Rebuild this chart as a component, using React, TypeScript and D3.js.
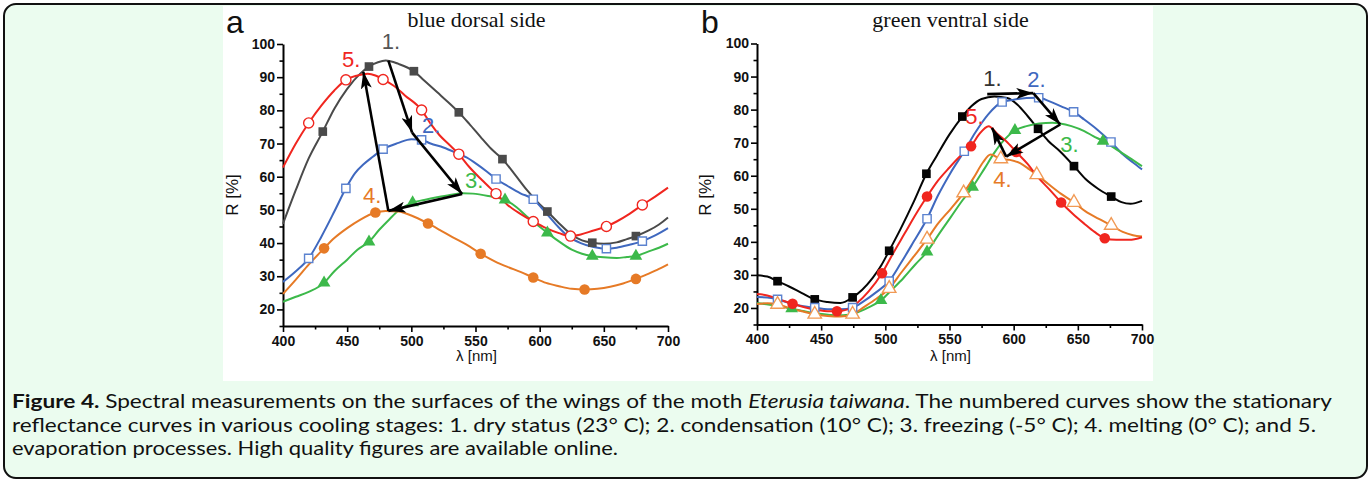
import { useEffect, useRef } from "react";
import * as d3 from "d3";

// [wavelength nm, reflectance %, 1 = point carries a marker]
type Pt = [number, number, number?];

// panel a: blue dorsal side
const dorsal1: Pt[] = [[400,45.8],[410,56],[420,65.5],[431,73.6,1],[440,80.5],[450,86.5],[460,91],[467,93.2,1],[474,94.5],[480,95],[490,94],[502,91.8,1],[510,89],[520,85.5],[530,82],[537,79.4,1],[545,76],[555,71.5],[562,68.5],[571,65.3,1],[580,61],[590,56],[598,52.5],[606,49.5,1],[615,46],[625,42.5],[633,40.8],[641,40.1,1],[650,39.8],[660,40.2],[668,41.2],[675,42.1,1],[685,43.8],[693,45.6],[700,47.7]];
const dorsal2: Pt[] = [[400,28.3],[410,31.5],[420,35.4,1],[430,42],[440,49.5],[449,56.5,1],[456,61],[463,63.8],[470,66],[478,68.3,1],[490,70.2],[500,71.3],[508,71.1,1],[515,70],[525,68.8],[535,67.2],[543,65.8],[551,63.8],[559,61.5],[566,59.3,1],[575,57.2],[585,55],[595,53.2,1],[605,49],[613,45.5],[622,42.1],[632,40],[642,38.8],[652,38.3,1],[660,38.6],[670,39.5],[680,40.6,1],[690,42.3],[700,44.5]];
const dorsal3: Pt[] = [[400,22.3],[410,23.8],[420,25.3],[432,28,1],[440,31.5],[450,35],[458,38],[467,40.4,1],[475,44],[483,47.2],[490,49.8],[501,52.2,1],[510,53],[520,53.8],[530,54.5],[540,55],[548,54.9],[560,54.2],[573,53,1],[582,50.8],[590,48],[598,45.5],[606,43.1,1],[615,40.5],[625,38],[633,36.8],[641,36.1,1],[650,35.7],[660,35.5],[668,35.8],[675,36.1,1],[685,37.5],[693,38.6],[700,39.8]];
const dorsal4: Pt[] = [[400,24.7],[410,29],[420,33.5],[432,38.4,1],[440,41.5],[450,44.5],[460,47],[472,49.2,1],[480,49.7],[490,49.5],[500,48.3],[513,45.9,1],[522,44],[532,41.8],[543,39.5],[554,36.8,1],[565,34.5],[575,32.8],[585,31.3],[595,29.6,1],[605,28],[615,27],[625,26.2],[635,26,1],[645,26.2],[655,26.8],[665,27.8],[675,29.2,1],[685,30.8],[693,32.2],[700,33.6]];
const dorsal5: Pt[] = [[400,62.8],[410,70],[420,76.2,1],[430,81.5],[440,86],[449,89.2,1],[458,90.5],[466,91],[472,90.5],[478,89.3,1],[486,87.5],[495,84.5],[508,80.1,1],[515,76],[522,72.5],[530,69.5],[537,66.8,1],[545,63],[555,59],[566,54.9,1],[575,51.5],[585,48.8],[595,46.5,1],[605,44.5],[615,43],[624,42.1,1],[632,42.6],[642,43.8],[652,45,1],[660,46.5],[670,48.8],[680,51.5,1],[690,54],[700,56.7]];

// panel b: green ventral side
const ventral1: Pt[] = [[400,29.9],[408,29.5],[416,28.1,1],[425,26.5],[435,24.5],[445,22.6,1],[455,21.8],[465,21.5],[474.5,23.2,1],[482,25.5],[490,29],[497,33],[503,37.3,1],[512,44],[522,52],[532,60.6,1],[540,66],[550,72.5],[560,77.9,1],[567,81],[575,83.2],[585,84],[595,83.5],[603,81.5],[611,78],[619,74.2,1],[627,70.5],[636,67.4],[647,62.9,1],[656,59],[666,56],[676,53.7,1],[684,52],[691,51.5],[700,52.4]];
const ventral2: Pt[] = [[400,23.3],[408,23.2],[416,22.6,1],[425,21.5],[435,20.6],[445,20.1,1],[455,19.6],[465,19.6],[474.5,20.1,1],[483,22],[493,24.8],[503,28.1,1],[512,33.5],[522,40],[532.5,47,1],[541,54],[551,61],[561.5,67.4,1],[570,73],[580,78.5],[591,82.3,1],[600,83],[610,83.5],[619.5,83.6,1],[628,82.5],[637,81],[646.7,79.3,1],[655,77],[665,74],[675.8,70.2,1],[685,66.5],[693,64],[700,61.9]];
const ventral3: Pt[] = [[400,21.5],[410,21],[418,20.5],[427,19.8,1],[437,19],[447,18.3],[457,17.9],[467,17.8],[477,18.5],[487,20.2],[496.6,22.3,1],[505,25.5],[514,29],[523,33],[532.5,37,1],[542,42.5],[551,47.5],[560,52.5],[568,56.6,1],[577,62],[585,67],[593,71],[601,73.7,1],[610,75],[620,75.8],[630,76],[636,75.8],[645,75],[655,73.5],[662,72],[669.6,70.5,1],[680,68],[690,65.5],[700,62.9]];
const ventral4: Pt[] = [[400,21.2],[408,21.4],[416,21.1,1],[425,20],[435,19],[445,18.1,1],[455,17.6],[465,17.4],[474.5,18.1,1],[483,20.2],[493,22.8],[503,25.9,1],[512,30.5],[522,35.5],[532.5,40.8,1],[541,45.5],[551,50],[561,54.8,1],[569,59.5],[576,64],[582,66.4],[590,65.1,1],[597,64.8],[605,63.8],[612,62],[618,60.3,1],[627,57.5],[637,54.5],[647,51.9,1],[656,49.2],[666,47],[676,45,1],[685,43],[693,42],[700,41.6]];
const ventral5: Pt[] = [[400,24.2],[408,23.8],[418,22.5],[427.7,21.3,1],[437,20.2],[447,19.4],[455,19],[462.3,19,1],[470,19.5],[478,21.5],[487,25],[497.4,30.5,1],[506,36.5],[515,42.5],[524,48.5],[532.5,53.7,1],[541,58.5],[550,62.5],[558,65.8],[566.8,68.9,1],[573,72.5],[580.5,75],[587,72.8],[594,70.5],[602,67.2,1],[611,63.5],[619,59.5],[628,55.8],[637,51.9,1],[646,48.5],[655,45.5],[663,43],[671,41.1,1],[680,40.6],[690,40.6],[700,41.4]];

const stageLabels = ["1.", "2.", "3.", "4.", "5."];
// label anchors (nm, %) – left edge / baseline
const dorsalLabelPos: [number, number][] = [[477, 98.6],[508.4, 73.3],[541.9, 56.6],[462.4, 52.1],[446, 93.2]];
const ventralLabelPos: [number, number][] = [[576.3, 87.1],[610.6, 86.8],[636.3, 67.3],[584.1, 56.7],[562.3, 75.5]];
// arrow path 1 -> 2 -> 3 -> 4 -> 5
const dorsalArrow: [number, number][] = [[482.1, 95],[500.6, 73.3],[539.6, 54.8],[482.1, 49.7],[462.6, 91.6]];
const ventralArrow: [number, number][] = [[579.4, 84.7],[615.3, 85],[636.3, 75.5],[594.2, 65.8],[583.1, 74.5]];

const xTicks = [400, 450, 500, 550, 600, 650, 700];
const xMinor = [425, 475, 525, 575, 625, 675];
const yTicks = [20, 30, 40, 50, 60, 70, 80, 90, 100];
const yMinor = [15, 25, 35, 45, 55, 65, 75, 85, 95];

const W = 1372;
const H = 481;
const BLUE = "#3f68bf";
const GREEN = "#3cb94a";
const ORANGE = "#e67a26";
const RED = "#f0261f";

type Style = { color: string; mark: d3.SymbolType; open: boolean; markStroke?: string; size: number };

const dorsalStyles: Style[] = [
  { color: "#4a4a4a", mark: d3.symbolSquare, open: false, size: 75 },
  { color: BLUE, mark: d3.symbolSquare, open: true, markStroke: "#5b82cf", size: 68 },
  { color: GREEN, mark: d3.symbolTriangle, open: false, size: 70 },
  { color: ORANGE, mark: d3.symbolCircle, open: false, size: 88 },
  { color: RED, mark: d3.symbolCircle, open: true, size: 80 },
];
const ventralStyles: Style[] = [
  { color: "#050505", mark: d3.symbolSquare, open: false, size: 75 },
  { color: BLUE, mark: d3.symbolSquare, open: true, markStroke: "#5b82cf", size: 68 },
  { color: GREEN, mark: d3.symbolTriangle, open: false, size: 70 },
  { color: ORANGE, mark: d3.symbolTriangle, open: true, markStroke: "#f19a55", size: 78 },
  { color: RED, mark: d3.symbolCircle, open: false, size: 88 },
];

const panels = [
  {
    letter: "a", title: "blue dorsal side",
    series: [dorsal1, dorsal2, dorsal3, dorsal4, dorsal5],
    styles: dorsalStyles, labels: dorsalLabelPos, arrow: dorsalArrow,
    left: 283, right: 668, top: 44, bottom: 326, rLabelX: 238, letterX: 226,
    labelColor: ["#555555", BLUE, GREEN, ORANGE, RED],
  },
  {
    letter: "b", title: "green ventral side",
    series: [ventral1, ventral2, ventral3, ventral4, ventral5],
    styles: ventralStyles, labels: ventralLabelPos, arrow: ventralArrow,
    left: 757, right: 1142, top: 43.5, bottom: 324.5, rLabelX: 711, letterX: 701,
    labelColor: ["#333333", BLUE, GREEN, ORANGE, RED],
  },
];

const caption = [
  [
    { t: "Figure 4.", w: "bold" },
    { t: " Spectral measurements on the surfaces of the wings of the moth " },
    { t: "Eterusia taiwana", s: "italic" },
    { t: ". The numbered curves show the stationary" },
  ],
  [{ t: "reflectance curves in various cooling stages: 1. dry status (23° C); 2. condensation (10° C); 3. freezing (-5° C); 4. melting (0° C); and 5." }],
  [{ t: "evaporation processes. High quality figures are available online." }],
];
const captionWidths = [1320, 1304, 606];

export default function App() {
  const svgRef = useRef<SVGSVGElement>(null);

  useEffect(() => {
    if (!svgRef.current) return;
    const svg = d3.select(svgRef.current);
    svg.selectAll("*").remove();

    const defs = svg.append("defs");
    defs
      .append("marker")
      .attr("id", "head")
      .attr("viewBox", "0 0 10 10")
      .attr("refX", 10)
      .attr("refY", 5)
      .attr("markerUnits", "userSpaceOnUse")
      .attr("markerWidth", 17)
      .attr("markerHeight", 11)
      .attr("preserveAspectRatio", "none")
      .attr("orient", "auto")
      .append("path")
      .attr("d", "M0,0 L10,5 L0,10 L2.5,5 z")
      .attr("fill", "#000");

    // frame
    svg
      .append("rect")
      .attr("x", 4)
      .attr("y", 4)
      .attr("width", 1363)
      .attr("height", 474)
      .attr("rx", 12)
      .attr("fill", "#ebfcef")
      .attr("stroke", "#111")
      .attr("stroke-width", 2);

    svg.append("rect").attr("x", 223).attr("y", 6).attr("width", 930).attr("height", 375).attr("fill", "#fff");

    panels.forEach((p) => {
      const x = d3.scaleLinear().domain([400, 700]).range([p.left, p.right]);
      const y = d3.scaleLinear().domain([15, 100]).range([p.bottom, p.top]);
      const g = svg.append("g");
      const cx = (p.left + p.right) / 2;

      // axes
      const yAx = g.append("g").attr("transform", `translate(${p.left},0)`);
      yAx.call(d3.axisLeft(y).tickValues(yTicks).tickSize(6).tickSizeOuter(0).tickPadding(2));
      const yMin = g.append("g").attr("transform", `translate(${p.left},0)`);
      yMin.call(d3.axisLeft(y).tickValues(yMinor).tickSize(3.5).tickFormat(() => ""));
      yMin.select(".domain").remove();

      const xAx = g.append("g").attr("transform", `translate(0,${p.bottom})`);
      xAx.call(d3.axisBottom(x).tickValues(xTicks).tickSize(6).tickSizeOuter(0).tickPadding(4).tickFormat(d3.format("d")));
      const xMin = g.append("g").attr("transform", `translate(0,${p.bottom})`);
      xMin.call(d3.axisBottom(x).tickValues(xMinor).tickSize(3.5).tickFormat(() => ""));
      xMin.select(".domain").remove();

      g.selectAll(".domain").attr("stroke", "#000").attr("stroke-width", 2);
      g.selectAll(".tick line").attr("stroke", "#000").attr("stroke-width", 1.6);
      g.selectAll(".tick text")
        .attr("fill", "#111")
        .style("font-family", "'Liberation Sans', Arial, sans-serif")
        .style("font-size", "14px")
        .style("font-weight", "bold");

      // axis titles
      g.append("text")
        .attr("transform", `translate(${p.rLabelX},195) rotate(-90)`)
        .attr("text-anchor", "middle")
        .style("font-family", "'Liberation Sans', Arial, sans-serif")
        .style("font-size", "17px")
        .attr("fill", "#111")
        .text("R [%]");
      g.append("text")
        .attr("x", cx + 1)
        .attr("y", 361)
        .attr("text-anchor", "middle")
        .style("font-family", "'Liberation Sans', Arial, sans-serif")
        .style("font-size", "15px")
        .attr("fill", "#111")
        .text("λ [nm]");

      g.append("text")
        .attr("x", cx + 1)
        .attr("y", 27)
        .attr("text-anchor", "middle")
        .style("font-family", "'Liberation Serif', 'Times New Roman', serif")
        .style("font-size", "22px")
        .attr("fill", "#111")
        .text(p.title);

      g.append("text")
        .attr("x", p.letterX)
        .attr("y", 33)
        .style("font-family", "'Liberation Sans', Arial, sans-serif")
        .style("font-size", "32px")
        .attr("fill", "#111")
        .text(p.letter);

      // curves
      const line = d3
        .line<Pt>()
        .x((d) => x(d[0]))
        .y((d) => y(d[1]))
        .curve(d3.curveMonotoneX);

      p.series.forEach((s, i) => {
        const st = p.styles[i];
        g.append("path")
          .datum(s)
          .attr("fill", "none")
          .attr("stroke", st.color)
          .attr("stroke-width", 2)
          .attr("d", line);
      });

      p.series.forEach((s, i) => {
        const st = p.styles[i];
        const sym = d3.symbol().type(st.mark).size(st.size);
        g.append("g")
          .selectAll("path")
          .data(s.filter((d) => d[2]))
          .join("path")
          .attr("transform", (d) => `translate(${x(d[0])},${y(d[1])})`)
          .attr("d", sym)
          .attr("fill", st.open ? "#fff" : st.color)
          .attr("stroke", st.open ? st.markStroke || st.color : "none")
          .attr("stroke-width", 1.4);
      });

      // stage arrows
      for (let k = 0; k < p.arrow.length - 1; k++) {
        const a = p.arrow[k];
        const b = p.arrow[k + 1];
        g.append("line")
          .attr("x1", x(a[0]))
          .attr("y1", y(a[1]))
          .attr("x2", x(b[0]))
          .attr("y2", y(b[1]))
          .attr("stroke", "#000")
          .attr("stroke-width", 2.6)
          .attr("marker-end", "url(#head)");
      }

      // stage numbers
      stageLabels.forEach((lab, i) => {
        g.append("text")
          .attr("x", x(p.labels[i][0]))
          .attr("y", y(p.labels[i][1]))
          .style("font-family", "'Liberation Sans', Arial, sans-serif")
          .style("font-size", "22px")
          .attr("fill", p.labelColor[i])
          .text(lab);
      });
    });

    // caption
    const baselines = [408, 431.5, 455];
    caption.forEach((parts, li) => {
      const t = svg
        .append("text")
        .attr("x", 12)
        .attr("y", baselines[li])
        .attr("textLength", captionWidths[li])
        .attr("lengthAdjust", "spacingAndGlyphs")
        .style("font-family", "Lato, 'Open Sans', sans-serif")
        .style("font-size", "19px")
        .attr("fill", "#111");
      parts.forEach((pt: any) => {
        t.append("tspan")
          .style("font-weight", pt.w || "normal")
          .style("font-style", pt.s || "normal")
          .text(pt.t);
      });
    });
  }, []);

  return (
    <svg
      ref={svgRef}
      width={W}
      height={H}
      style={{ position: "absolute", left: 0, top: 0, display: "block" }}
    />
  );
}
